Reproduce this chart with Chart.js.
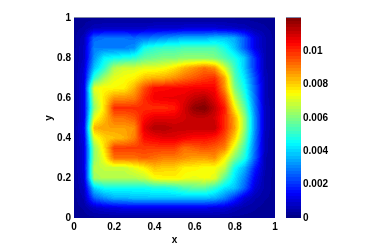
<!DOCTYPE html>
<html lang="en">
<head>
    <meta charset="UTF-8">
    <title>Density heatmap</title>
    <script src="https://cdn.jsdelivr.net/npm/chart.js"></script>
    <style>
        html, body { margin: 0; padding: 0; background: #fff; }
        canvas { position: absolute; left: 0; top: 0; }
    </style>
</head>
<body>
    <canvas id="heat" width="374" height="246"></canvas>
    <canvas id="bar" width="374" height="246"></canvas>

    <script>
        const gridX = [0, 0.05, 0.1, 0.15, 0.2, 0.25, 0.3, 0.35, 0.4, 0.45, 0.5, 0.55, 0.6, 0.65, 0.7, 0.75, 0.8, 0.85, 0.9, 0.95, 1];
        const gridY = [1, 0.95, 0.9, 0.85, 0.8, 0.75, 0.7, 0.65, 0.6, 0.55, 0.5, 0.45, 0.4, 0.35, 0.3, 0.25, 0.2, 0.15, 0.1, 0.05, 0];
        // values in units of 1e-4, one row per gridY entry
        const cellValues = [
            [3, 3, 3, 3, 3, 3, 3, 3, 3, 3, 3, 3, 3, 3, 3, 3, 3, 3, 3, 3, 3],
            [3, 4, 7, 8, 8, 8, 8, 8, 9, 9, 9, 10, 10, 10, 10, 9, 8, 7, 5, 4, 3],
            [3, 7, 27, 28, 28, 28, 27, 28, 30, 32, 34, 36, 36, 36, 38, 38, 35, 25, 12, 6, 3],
            [3, 8, 30, 30, 30, 30, 32, 47, 50, 52, 52, 54, 54, 54, 54, 48, 38, 25, 12, 6, 3],
            [3, 8, 32, 44, 46, 48, 50, 56, 58, 60, 60, 62, 62, 62, 60, 54, 48, 38, 20, 6, 3],
            [3, 10, 38, 50, 66, 70, 70, 72, 72, 74, 78, 84, 88, 92, 88, 70, 52, 38, 20, 6, 3],
            [3, 11, 50, 64, 72, 74, 76, 82, 84, 85, 88, 92, 95, 98, 100, 85, 55, 42, 24, 7, 3],
            [3, 12, 72, 75, 75, 76, 84, 96, 104, 104, 105, 105, 106, 106, 105, 88, 60, 46, 26, 7, 3],
            [3, 12, 66, 78, 88, 88, 90, 100, 106, 107, 107, 108, 112, 114, 108, 96, 68, 50, 28, 7, 3],
            [3, 12, 62, 78, 100, 100, 100, 100, 100, 100, 102, 110, 118, 120, 112, 102, 76, 56, 30, 8, 3],
            [3, 12, 72, 82, 92, 92, 95, 104, 108, 108, 108, 110, 112, 112, 110, 100, 85, 62, 32, 8, 3],
            [3, 14, 84, 86, 86, 86, 88, 108, 114, 114, 112, 112, 112, 112, 112, 100, 86, 62, 32, 8, 3],
            [3, 12, 72, 80, 82, 84, 90, 104, 106, 108, 108, 106, 104, 104, 102, 96, 80, 58, 30, 7, 3],
            [3, 11, 62, 78, 98, 98, 98, 98, 98, 98, 98, 92, 94, 96, 94, 90, 70, 52, 28, 7, 3],
            [3, 11, 62, 74, 92, 92, 92, 94, 92, 90, 90, 88, 86, 86, 88, 76, 60, 48, 26, 6, 3],
            [3, 11, 66, 68, 68, 68, 72, 76, 82, 80, 80, 76, 76, 74, 74, 68, 46, 36, 18, 6, 3],
            [3, 10, 64, 66, 66, 66, 66, 68, 74, 76, 76, 74, 72, 74, 72, 56, 42, 30, 14, 5, 3],
            [3, 8, 40, 46, 46, 46, 46, 46, 48, 48, 50, 54, 56, 56, 50, 42, 38, 26, 10, 5, 3],
            [3, 6, 26, 32, 36, 36, 38, 38, 38, 38, 38, 38, 38, 38, 36, 30, 20, 10, 6, 4, 3],
            [3, 4, 8, 10, 11, 12, 12, 12, 12, 12, 12, 12, 12, 12, 11, 10, 7, 5, 4, 3, 3],
            [3, 3, 3, 3, 3, 3, 3, 3, 3, 3, 3, 3, 3, 3, 3, 3, 3, 3, 3, 3, 3]
        ];
        const axisTicks = [0, 0.2, 0.4, 0.6, 0.8, 1];
        const colorTicks = [0, 0.002, 0.004, 0.006, 0.008, 0.01];
        const colorMax = 0.01198;

        const font = { family: '"Liberation Sans"', size: 10, weight: 'bold' };
        const frameColor = '#8088a8';

        // matlab jet, 64 levels
        function jet(t) {
            const k = Math.min(63, Math.floor(t * 64));
            const v = (k + 0.5) / 64;
            const ch = c => Math.round(255 * Math.max(0, Math.min(1, 1.5 - Math.abs(4 * v - c))));
            return [ch(3), ch(2), ch(1)];
        }

        const points = [];
        gridY.forEach((y, r) => gridX.forEach((x, c) => points.push({ x, y, v: cellValues[r][c] * 1e-4 })));

        function useTicks(list) {
            return scale => { scale.ticks = list.map(value => ({ value })); };
        }
        const plainLabel = value => String(value);

        const heatPlugin = {
            id: 'heat',
            beforeDatasetsDraw(chart) {
                const { ctx, chartArea: a, scales } = chart;
                const w = Math.round(a.right - a.left), h = Math.round(a.bottom - a.top);
                const img = ctx.createImageData(w, h);
                const n = gridX.length - 1, m = gridY.length - 1;
                for (let py = 0; py < h; py++) {
                    const yv = scales.y.getValueForPixel(a.top + py + 0.5);
                    const fy = Math.max(0, Math.min(m - 1e-6, (gridY[0] - yv) / (gridY[0] - gridY[m]) * m));
                    const r = Math.floor(fy), dy = fy - r;
                    for (let px = 0; px < w; px++) {
                        const xv = scales.x.getValueForPixel(a.left + px + 0.5);
                        const fx = Math.max(0, Math.min(n - 1e-6, (xv - gridX[0]) / (gridX[n] - gridX[0]) * n));
                        const c = Math.floor(fx), dx = fx - c;
                        const val = (cellValues[r][c] * (1 - dx) + cellValues[r][c + 1] * dx) * (1 - dy)
                            + (cellValues[r + 1][c] * (1 - dx) + cellValues[r + 1][c + 1] * dx) * dy;
                        const rgb = jet(val * 1e-4 / colorMax);
                        const i = (py * w + px) * 4;
                        img.data[i] = rgb[0];
                        img.data[i + 1] = rgb[1];
                        img.data[i + 2] = rgb[2];
                        img.data[i + 3] = 255;
                    }
                }
                ctx.putImageData(img, Math.round(a.left), Math.round(a.top));
            }
        };

        // only the top edge of the axes box shows in the reference
        const framePlugin = {
            id: 'frame',
            afterDraw(chart) {
                const { ctx, chartArea: a } = chart;
                ctx.save();
                ctx.strokeStyle = frameColor;
                ctx.lineWidth = 1;
                ctx.beginPath();
                ctx.moveTo(a.left, a.top - 0.5);
                ctx.lineTo(a.right, a.top - 0.5);
                ctx.stroke();
                ctx.restore();
            }
        };

        new Chart(document.getElementById('heat'), {
            type: 'scatter',
            data: { datasets: [{ label: 'density', data: points, pointRadius: 0 }] },
            options: {
                responsive: false,
                animation: false,
                layout: { padding: { top: 18, right: 99, left: 43, bottom: 0 } },
                plugins: { legend: { display: false }, tooltip: { enabled: false } },
                scales: {
                    x: {
                        type: 'linear', min: 0, max: 1,
                        afterBuildTicks: useTicks(axisTicks),
                        afterFit(scale) { scale.height = 28; },
                        grid: { display: false, drawTicks: false },
                        border: { display: false },
                        ticks: { font, color: '#000', padding: 3, maxRotation: 0, callback: plainLabel },
                        title: { display: true, text: 'x', font, color: '#000', padding: { top: 0, bottom: 0 } }
                    },
                    y: {
                        type: 'linear', min: 0, max: 1,
                        afterBuildTicks: useTicks(axisTicks),
                        afterFit(scale) { scale.width = 31; },
                        grid: { display: false, drawTicks: false },
                        border: { display: false },
                        ticks: { font, color: '#000', padding: 3, callback: plainLabel },
                        title: { display: true, text: 'y', font, color: '#000', padding: { top: 0, bottom: 0 } }
                    }
                }
            },
            plugins: [heatPlugin, framePlugin]
        });

        new Chart(document.getElementById('bar'), {
            type: 'bar',
            data: {
                labels: ['colorbar'],
                datasets: [{
                    data: [[0, colorMax]],
                    barPercentage: 1,
                    categoryPercentage: 1,
                    backgroundColor(context) {
                        const a = context.chart.chartArea;
                        if (!a) return '#000';
                        const g = context.chart.ctx.createLinearGradient(0, a.bottom, 0, a.top);
                        for (let k = 0; k < 64; k++) {
                            const rgb = jet((k + 0.5) / 64);
                            const col = 'rgb(' + rgb.join(',') + ')';
                            g.addColorStop(k / 64, col);
                            g.addColorStop((k + 1) / 64, col);
                        }
                        return g;
                    }
                }]
            },
            options: {
                responsive: false,
                animation: false,
                layout: { padding: { top: 18, bottom: 28, left: 286, right: 0 } },
                plugins: { legend: { display: false }, tooltip: { enabled: false } },
                scales: {
                    x: { display: false },
                    y: {
                        position: 'right',
                        min: 0, max: colorMax,
                        afterBuildTicks: useTicks(colorTicks),
                        afterFit(scale) { scale.width = 73; },
                        grid: { display: false, drawTicks: false },
                        border: { display: false },
                        ticks: { font, color: '#000', padding: 2, callback: plainLabel }
                    }
                }
            },
            plugins: [framePlugin]
        });
    </script>
</body>
</html>
